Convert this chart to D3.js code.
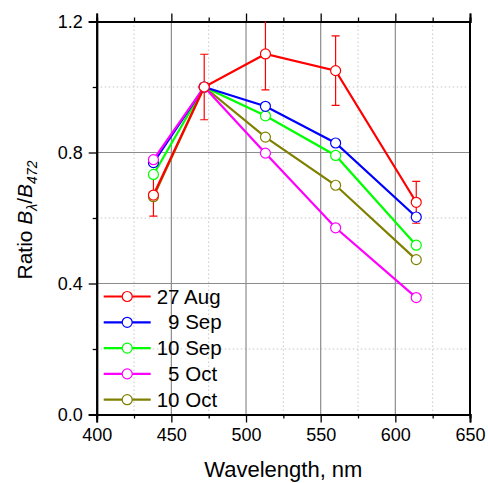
<!DOCTYPE html>
<html>
<head>
<meta charset="utf-8">
<script src="https://cdn.jsdelivr.net/npm/d3@7"></script>
<style>
  body { margin: 0; background: #fff; }
  text { font-family: "Liberation Sans", Arial, sans-serif; fill: #000; }
</style>
</head>
<body>
<div id="chart-container"></div>
<script>
// Data
const wavelengths = [438, 472, 513, 560, 614];
const seriesNames = ["27 Aug", "9 Sep", "10 Sep", "5 Oct", "10 Oct"];
const seriesColors = ["#ff0000", "#0000ff", "#00ff00", "#ff00ff", "#808000"];
const aug27 = [0.670, 1.000, 1.101, 1.050, 0.648];
const sep9 = [0.769, 1.000, 0.941, 0.829, 0.603];
const sep10 = [0.733, 1.000, 0.912, 0.791, 0.517];
const oct5 = [0.778, 1.000, 0.798, 0.570, 0.357];
const oct10 = [0.665, 1.000, 0.847, 0.700, 0.473];
const aug27Err = [0.064, 0.100, 0.110, 0.106, 0.064];
const xTicks = [400, 450, 500, 550, 600, 650];
const yTicks = [0.0, 0.4, 0.8, 1.2];

function init() {
    const width = 488;
    const height = 483;
    const margin = {top: 21.5, right: 18, bottom: 68.5, left: 96.7};
    const innerW = width - margin.left - margin.right;
    const innerH = height - margin.top - margin.bottom;

    const svg = d3.select("#chart-container")
        .append("svg")
        .attr("width", width)
        .attr("height", height);

    const g = svg.append("g")
        .attr("transform", `translate(${margin.left},${margin.top})`);

    const x = d3.scaleLinear().domain([400, 650]).range([0, innerW]);
    const y = d3.scaleLinear().domain([0, 1.2]).range([innerH, 0]);

    // Minor grid (dotted)
    const xMinor = d3.range(425, 650, 50);
    const yMinor = [0.2, 0.6, 1.0];
    g.selectAll(".xminor").data(xMinor).enter().append("line")
        .attr("x1", d => x(d)).attr("x2", d => x(d))
        .attr("y1", 0).attr("y2", innerH)
        .attr("stroke", "#c8c8c8").attr("stroke-width", 1)
        .attr("stroke-dasharray", "1.5,2.5");
    g.selectAll(".yminor").data(yMinor).enter().append("line")
        .attr("x1", 0).attr("x2", innerW)
        .attr("y1", d => y(d)).attr("y2", d => y(d))
        .attr("stroke", "#c8c8c8").attr("stroke-width", 1)
        .attr("stroke-dasharray", "1.5,2.5");

    // Major grid (solid grey)
    g.selectAll(".xmajor").data(xTicks.slice(1, -1)).enter().append("line")
        .attr("x1", d => x(d)).attr("x2", d => x(d))
        .attr("y1", 0).attr("y2", innerH)
        .attr("stroke", "#8c8c8c").attr("stroke-width", 1.2);
    g.selectAll(".ymajor").data(yTicks.slice(1, -1)).enter().append("line")
        .attr("x1", 0).attr("x2", innerW)
        .attr("y1", d => y(d)).attr("y2", d => y(d))
        .attr("stroke", "#8c8c8c").attr("stroke-width", 1.2);

    // Axes
    const xAxis = d3.axisBottom(x).tickValues(xTicks).tickSize(8).tickPadding(6)
        .tickFormat(d3.format("d"));
    const xAxisMinor = d3.axisBottom(x).tickValues(xMinor).tickSize(4).tickFormat("");
    const yAxis = d3.axisLeft(y).tickValues(yTicks).tickSize(8).tickPadding(6)
        .tickFormat(d3.format(".1f"));
    const yAxisMinor = d3.axisLeft(y).tickValues(yMinor).tickSize(4).tickFormat("");
    const xTop = d3.axisTop(x).tickValues(xTicks).tickSize(8).tickFormat("");
    const xTopMinor = d3.axisTop(x).tickValues(xMinor).tickSize(4).tickFormat("");

    function styleAxis(sel) {
        sel.select(".domain").attr("stroke", "#000").attr("stroke-width", 2);
        sel.selectAll(".tick line").attr("stroke", "#000").attr("stroke-width", 1.3);
        sel.selectAll(".tick text").style("font-size", "18px")
            .style("font-family", "'Liberation Sans', Arial, sans-serif");
    }

    g.append("g").attr("transform", `translate(0,${innerH})`).call(xAxisMinor).call(styleAxis);
    g.append("g").attr("transform", `translate(0,${innerH})`).call(xAxis).call(styleAxis);
    g.append("g").call(yAxisMinor).call(styleAxis);
    g.append("g").call(yAxis).call(styleAxis);
    g.append("g").call(xTopMinor).call(styleAxis);
    g.append("g").call(xTop).call(styleAxis);
    g.append("line")
        .attr("x1", innerW).attr("x2", innerW)
        .attr("y1", -1).attr("y2", innerH + 1)
        .attr("stroke", "#000").attr("stroke-width", 2);

    // Axis titles
    svg.append("text")
        .attr("x", margin.left + innerW / 2)
        .attr("y", 477)
        .attr("text-anchor", "middle")
        .style("font-size", "22px")
        .text("Wavelength, nm");

    const yl = svg.append("text")
        .attr("transform", `translate(32,${margin.top + innerH / 2 + 2}) rotate(-90)`)
        .attr("text-anchor", "middle")
        .style("font-size", "21px");
    yl.append("tspan").text("Ratio ");
    yl.append("tspan").style("font-style", "italic").text("B");
    yl.append("tspan").style("font-style", "italic").style("font-size", "14px")
        .attr("dy", 5).text("λ");
    yl.append("tspan").attr("dy", -5).text("/");
    yl.append("tspan").style("font-style", "italic").text("B");
    yl.append("tspan").style("font-style", "italic").style("font-size", "14px")
        .attr("dy", 5).text("472");

    // Clip for data
    svg.append("defs").append("clipPath").attr("id", "plot-clip")
        .append("rect").attr("x", 0).attr("y", 0).attr("width", innerW).attr("height", innerH);

    const plot = g.append("g").attr("clip-path", "url(#plot-clip)");

    const series = [aug27, sep9, sep10, oct5, oct10].map((vals, i) => ({
        name: seriesNames[i],
        color: seriesColors[i],
        values: vals.map((v, j) => ({x: wavelengths[j], y: v}))
    }));

    const line = d3.line().x(d => x(d.x)).y(d => y(d.y));
    const drawOrder = [4, 2, 1, 3, 0];

    // Error bars for 27 Aug
    const errData = aug27.map((v, j) => ({x: wavelengths[j], y: v, e: aug27Err[j]}));
    const eb = plot.selectAll(".err").data(errData).enter().append("g")
        .attr("stroke", seriesColors[0]).attr("stroke-width", 1.2);
    eb.append("line")
        .attr("x1", d => x(d.x)).attr("x2", d => x(d.x))
        .attr("y1", d => y(d.y - d.e)).attr("y2", d => y(d.y + d.e));
    eb.append("line")
        .attr("x1", d => x(d.x) - 4).attr("x2", d => x(d.x) + 4)
        .attr("y1", d => y(d.y - d.e)).attr("y2", d => y(d.y - d.e));
    eb.append("line")
        .attr("x1", d => x(d.x) - 4).attr("x2", d => x(d.x) + 4)
        .attr("y1", d => y(d.y + d.e)).attr("y2", d => y(d.y + d.e));

    drawOrder.forEach(i => {
        const s = series[i];
        plot.append("path")
            .datum(s.values)
            .attr("fill", "none")
            .attr("stroke", s.color)
            .attr("stroke-width", 2.2)
            .attr("d", line);
        plot.selectAll(null).data(s.values).enter().append("circle")
            .attr("cx", d => x(d.x)).attr("cy", d => y(d.y))
            .attr("r", 5)
            .attr("fill", "#fff")
            .attr("stroke", s.color)
            .attr("stroke-width", 1.2);
    });

    // Legend
    const legend = g.append("g").attr("transform", "translate(7,275)");
    series.forEach((s, i) => {
        const row = legend.append("g").attr("transform", `translate(0,${i * 25.8})`);
        row.append("line")
            .attr("x1", 0).attr("x2", 47)
            .attr("stroke", s.color).attr("stroke-width", 2.2);
        row.append("circle")
            .attr("cx", 23.5).attr("r", 5)
            .attr("fill", "#fff").attr("stroke", s.color).attr("stroke-width", 1.2);
        const pad = /^\d\s/.test(s.name) ? 11.4 : 0;
        row.append("text")
            .attr("x", 53 + pad)
            .attr("y", 7)
            .style("font-size", "20.5px")
            .text(s.name);
    });
}

window.onload = init;
</script>
</body>
</html>
